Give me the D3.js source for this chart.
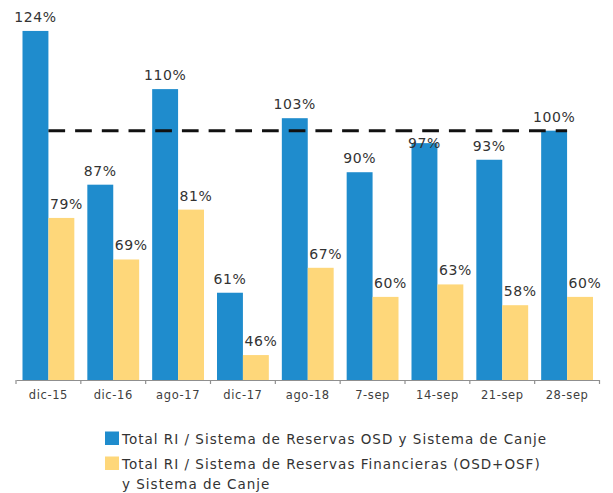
<!DOCTYPE html>
<html>
<head>
<meta charset="utf-8">
<script src="https://cdn.jsdelivr.net/npm/d3@7"></script>
<style>
  body { margin: 0; background: #fff; }
  text { font-family: "DejaVu Sans", "Open Sans", sans-serif; }
</style>
</head>
<body>
<svg id="chart" width="613" height="493"></svg>
<script>
// datos
const categories = ['dic-15', 'dic-16', 'ago-17', 'dic-17', 'ago-18', '7-sep', '14-sep', '21-sep', '28-sep'];
const seriesNames = [
    'Total RI / Sistema de Reservas OSD y Sistema de Canje',
    'Total RI / Sistema de Reservas Financieras (OSD+OSF) y Sistema de Canje'
];
const osdValues = [124, 87, 110, 61, 103, 90, 97, 93, 100];
const osfValues = [79, 69, 81, 46, 67, 60, 63, 58, 60];
const thresholdValue = 100;
const colors = ['#1f8ccd', '#fed77a'];

const svg = d3.select('#chart');
const left = 16, right = 599.5, base = 380;

// escalas
const x0 = d3.scaleBand().domain(categories).range([left, right]);
const x1 = d3.scaleBand().domain([0, 1]).range([6.5, x0.bandwidth() - 6.5]);
const y = d3.scaleLinear().domain([40, 130]).range([base, 6]);

const rows = categories.map((c, i) => ({ cat: c, vals: [osdValues[i], osfValues[i]] }));

// barras
const groups = svg.append('g')
    .selectAll('g')
    .data(rows)
    .enter()
    .append('g')
    .attr('transform', d => `translate(${x0(d.cat)},0)`);

groups.selectAll('rect')
    .data(d => d.vals.map((v, s) => ({ v, s })))
    .enter()
    .append('rect')
    .attr('x', d => x1(d.s))
    .attr('y', d => y(d.v))
    .attr('width', x1.bandwidth())
    .attr('height', d => base - y(d.v))
    .attr('fill', d => colors[d.s]);

// eje x
const axis = svg.append('g')
    .attr('transform', `translate(0,${base})`)
    .call(d3.axisBottom(x0).tickSize(0).tickPadding(11));
axis.select('.domain').attr('stroke', '#8f8f8f').attr('stroke-width', 1.2);
axis.selectAll('text')
    .attr('font-size', 11.5)
    .attr('letter-spacing', 0.6)
    .attr('fill', '#404040');
// separadores entre categorías
axis.selectAll('.sep')
    .data(categories.concat(['end']))
    .enter()
    .append('line')
    .attr('x1', (d, i) => left + i * x0.bandwidth())
    .attr('x2', (d, i) => left + i * x0.bandwidth())
    .attr('y1', 0)
    .attr('y2', 4)
    .attr('stroke', '#8f8f8f')
    .attr('stroke-width', 1.2);

// línea de referencia 100%
const lineY = y(thresholdValue);
svg.append('line')
    .attr('x1', x0(categories[0]) + x0.bandwidth() / 2)
    .attr('x2', x0(categories[categories.length - 1]) + x0.bandwidth() / 2)
    .attr('y1', lineY)
    .attr('y2', lineY)
    .attr('stroke', '#111')
    .attr('stroke-width', 3)
    .attr('stroke-dasharray', '16.7,10');

// etiquetas de valores
const capH = 10;
groups.selectAll('text')
    .data(d => d.vals.map((v, s) => ({ v, s })))
    .enter()
    .append('text')
    .attr('x', d => x1(d.s) + x1.bandwidth() / 2 + (d.s === 1 ? 5 : 0))
    .attr('y', d => {
        let yy = y(d.v) - 9;
        // si choca con la línea punteada, ponerla debajo
        if (yy > lineY - 2 && yy - capH < lineY + 2) yy = lineY + 17;
        return yy;
    })
    .attr('text-anchor', 'middle')
    .attr('font-size', 14)
    .attr('letter-spacing', 0.6)
    .attr('fill', '#333')
    .text(d => d.v + '%');

// leyenda
const legend = svg.append('g').attr('transform', 'translate(105,0)');
const legendLines = [
    { s: 0, lines: [seriesNames[0]] },
    { s: 1, lines: ['Total RI / Sistema de Reservas Financieras (OSD+OSF)', 'y Sistema de Canje'] }
];
const legendTop = [431.5, 456.5];
legendLines.forEach((item, k) => {
    legend.append('rect')
        .attr('x', 0)
        .attr('y', legendTop[k])
        .attr('width', 14)
        .attr('height', 13.5)
        .attr('fill', colors[item.s]);
    item.lines.forEach((t, j) => {
        legend.append('text')
            .attr('x', 17)
            .attr('y', legendTop[k] + 12.5 + j * 19.5)
            .attr('font-size', 13.5)
            .attr('letter-spacing', 1)
            .attr('fill', '#333')
            .text(t);
    });
});
</script>
</body>
</html>
